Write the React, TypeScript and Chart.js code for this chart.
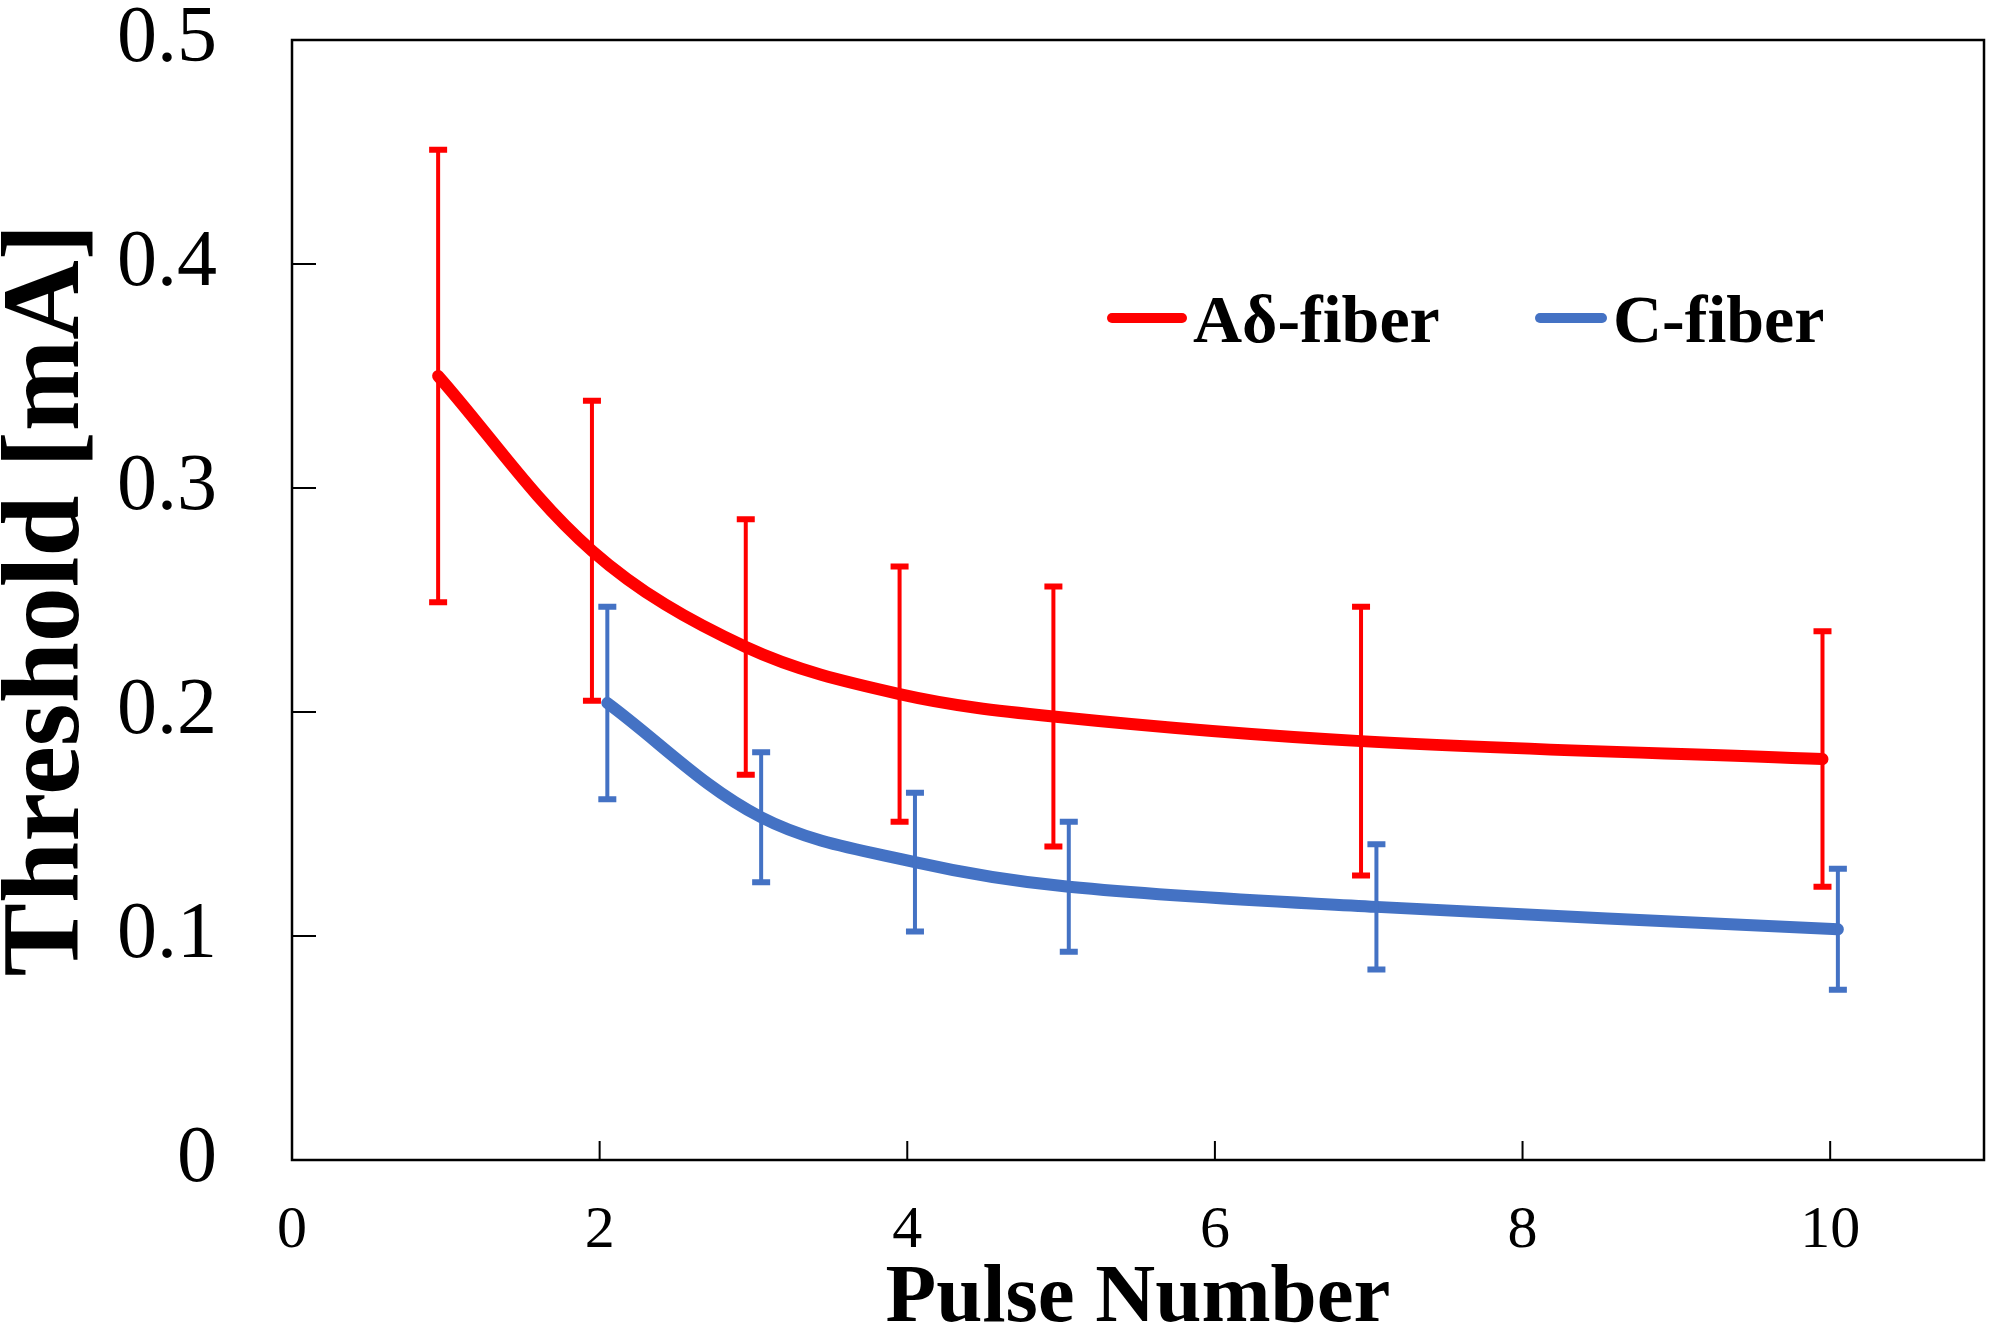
import React, { useEffect, useRef } from "react";
import { Chart, registerables } from "chart.js";

Chart.register(...registerables);

// values
const aDeltaPulses = [1, 2, 3, 4, 5, 7, 10];
const aDeltaMean = [0.35, 0.272, 0.229, 0.208, 0.198, 0.187, 0.179];
const aDeltaErr = [0.101, 0.067, 0.057, 0.057, 0.058, 0.06, 0.057];

const cPulses = [2, 3, 4, 5, 7, 10];
const cMean = [0.204, 0.153, 0.133, 0.122, 0.113, 0.103];
const cErr = [0.043, 0.029, 0.031, 0.029, 0.028, 0.027];

const xTicks = [0, 2, 4, 6, 8, 10];
const yTicks = [0, 0.1, 0.2, 0.3, 0.4, 0.5];
const seriesLabels = ["Aδ-fiber", "C-fiber"];

const RED = "#ff0000";
const BLUE = "#4472c4";
const SERIF = "'Liberation Serif', 'Times New Roman', serif";

// error bars, frame, inside tick marks and the legend
const decorPlugin = {
  id: "decor",
  afterDatasetsDraw(chart: any) {
    const { ctx, scales } = chart;
    const xs = scales.x;
    const ys = scales.y;
    chart.data.datasets.forEach((ds: any) => {
      ctx.save();
      ctx.strokeStyle = ds.borderColor;
      ds.data.forEach((pt: any, i: number) => {
        const px = xs.getPixelForValue(pt.x);
        const top = ys.getPixelForValue(pt.y + ds.errors[i]);
        const bot = ys.getPixelForValue(pt.y - ds.errors[i]);
        ctx.lineWidth = 4;
        ctx.beginPath();
        ctx.moveTo(px, top);
        ctx.lineTo(px, bot);
        ctx.stroke();
        ctx.lineWidth = 6;
        ctx.beginPath();
        ctx.moveTo(px - 9, top);
        ctx.lineTo(px + 9, top);
        ctx.moveTo(px - 9, bot);
        ctx.lineTo(px + 9, bot);
        ctx.stroke();
      });
      ctx.restore();
    });
  },
  afterDraw(chart: any) {
    const { ctx, chartArea: a, scales } = chart;
    ctx.save();
    ctx.strokeStyle = "#000";
    ctx.lineWidth = 2.5;
    ctx.strokeRect(a.left, a.top, a.right - a.left, a.bottom - a.top);
    ctx.lineWidth = 2;
    ctx.beginPath();
    yTicks.forEach((v) => {
      const py = scales.y.getPixelForValue(v);
      ctx.moveTo(a.left, py);
      ctx.lineTo(a.left + 24, py);
    });
    xTicks.forEach((v) => {
      const px = scales.x.getPixelForValue(v);
      ctx.moveTo(px, a.bottom);
      ctx.lineTo(px, a.bottom - 19);
    });
    ctx.stroke();

    // legend
    const ly = a.top + 278;
    const items = [
      { x: a.left + 815, color: RED, label: seriesLabels[0] },
      { x: a.left + 1243, color: BLUE, label: seriesLabels[1] },
    ];
    ctx.font = `bold 68px ${SERIF}`;
    ctx.textBaseline = "alphabetic";
    ctx.textAlign = "left";
    items.forEach((it, i) => {
      const len = i === 0 ? 80 : 72;
      ctx.strokeStyle = it.color;
      ctx.lineWidth = 10;
      ctx.lineCap = "round";
      ctx.beginPath();
      ctx.moveTo(it.x + 5, ly);
      ctx.lineTo(it.x + len - 5, ly);
      ctx.stroke();
      ctx.fillStyle = "#000";
      ctx.fillText(it.label, it.x + len + 6, ly + 24);
    });
    ctx.restore();
  },
};

const App = () => {
  const canvasRef = useRef<HTMLCanvasElement | null>(null);

  useEffect(() => {
    document.body.style.margin = "0";
    if (!canvasRef.current) return;
    const ctx = canvasRef.current.getContext("2d");
    if (!ctx) return;

    const chart = new Chart(ctx, {
      type: "line",
      data: {
        datasets: [
          {
            label: seriesLabels[0],
            data: aDeltaPulses.map((p, i) => ({ x: p - 0.05, y: aDeltaMean[i] })),
            errors: aDeltaErr,
            borderColor: RED,
            borderWidth: 12,
            pointRadius: 0,
            tension: 0.35,
            borderCapStyle: "round",
          } as any,
          {
            label: seriesLabels[1],
            data: cPulses.map((p, i) => ({ x: p + 0.05, y: cMean[i] })),
            errors: cErr,
            borderColor: BLUE,
            borderWidth: 12,
            pointRadius: 0,
            tension: 0.35,
            borderCapStyle: "round",
          } as any,
        ],
      },
      options: {
        responsive: false,
        animation: false,
        devicePixelRatio: 1,
        layout: { padding: { top: 40, right: 11, left: 0, bottom: 0 } },
        plugins: {
          legend: { display: false },
          tooltip: { enabled: false },
        },
        scales: {
          x: {
            type: "linear",
            min: 0,
            max: 11,
            afterBuildTicks: (s: any) => {
              s.ticks = xTicks.map((value) => ({ value }));
            },
            afterFit: (s: any) => {
              s.height = 178;
            },
            grid: { display: false, drawTicks: true, tickLength: 41 },
            border: { display: false },
            ticks: {
              padding: 0,
              color: "#000",
              maxRotation: 0,
              autoSkip: false,
              font: { family: SERIF, size: 60, lineHeight: 1 },
            },
            title: {
              display: true,
              text: "Pulse Number",
              color: "#000",
              padding: 0,
              font: { family: SERIF, size: 83, weight: "bold", lineHeight: 0.92 },
            },
          },
          y: {
            type: "linear",
            min: 0,
            max: 0.5,
            afterBuildTicks: (s: any) => {
              s.ticks = yTicks.map((value) => ({ value }));
            },
            afterFit: (s: any) => {
              s.width = 292;
            },
            grid: { display: false, drawTicks: true, tickLength: 75 },
            border: { display: false },
            ticks: {
              padding: 0,
              color: "#000",
              font: { family: SERIF, size: 80, lineHeight: 1 },
              callback: (v: any) => String(Math.round(Number(v) * 10) / 10),
            },
            title: {
              display: true,
              text: "Threshold [mA]",
              color: "#000",
              padding: 0,
              font: { family: SERIF, size: 110, weight: "bold", lineHeight: 0.91 },
            },
          },
        },
      },
      plugins: [decorPlugin],
    });

    return () => {
      chart.destroy();
    };
  }, []);

  return (
    <div style={{ width: 1995, height: 1338, background: "#fff" }}>
      <canvas ref={canvasRef} width={1995} height={1338} />
    </div>
  );
};

export default App;
